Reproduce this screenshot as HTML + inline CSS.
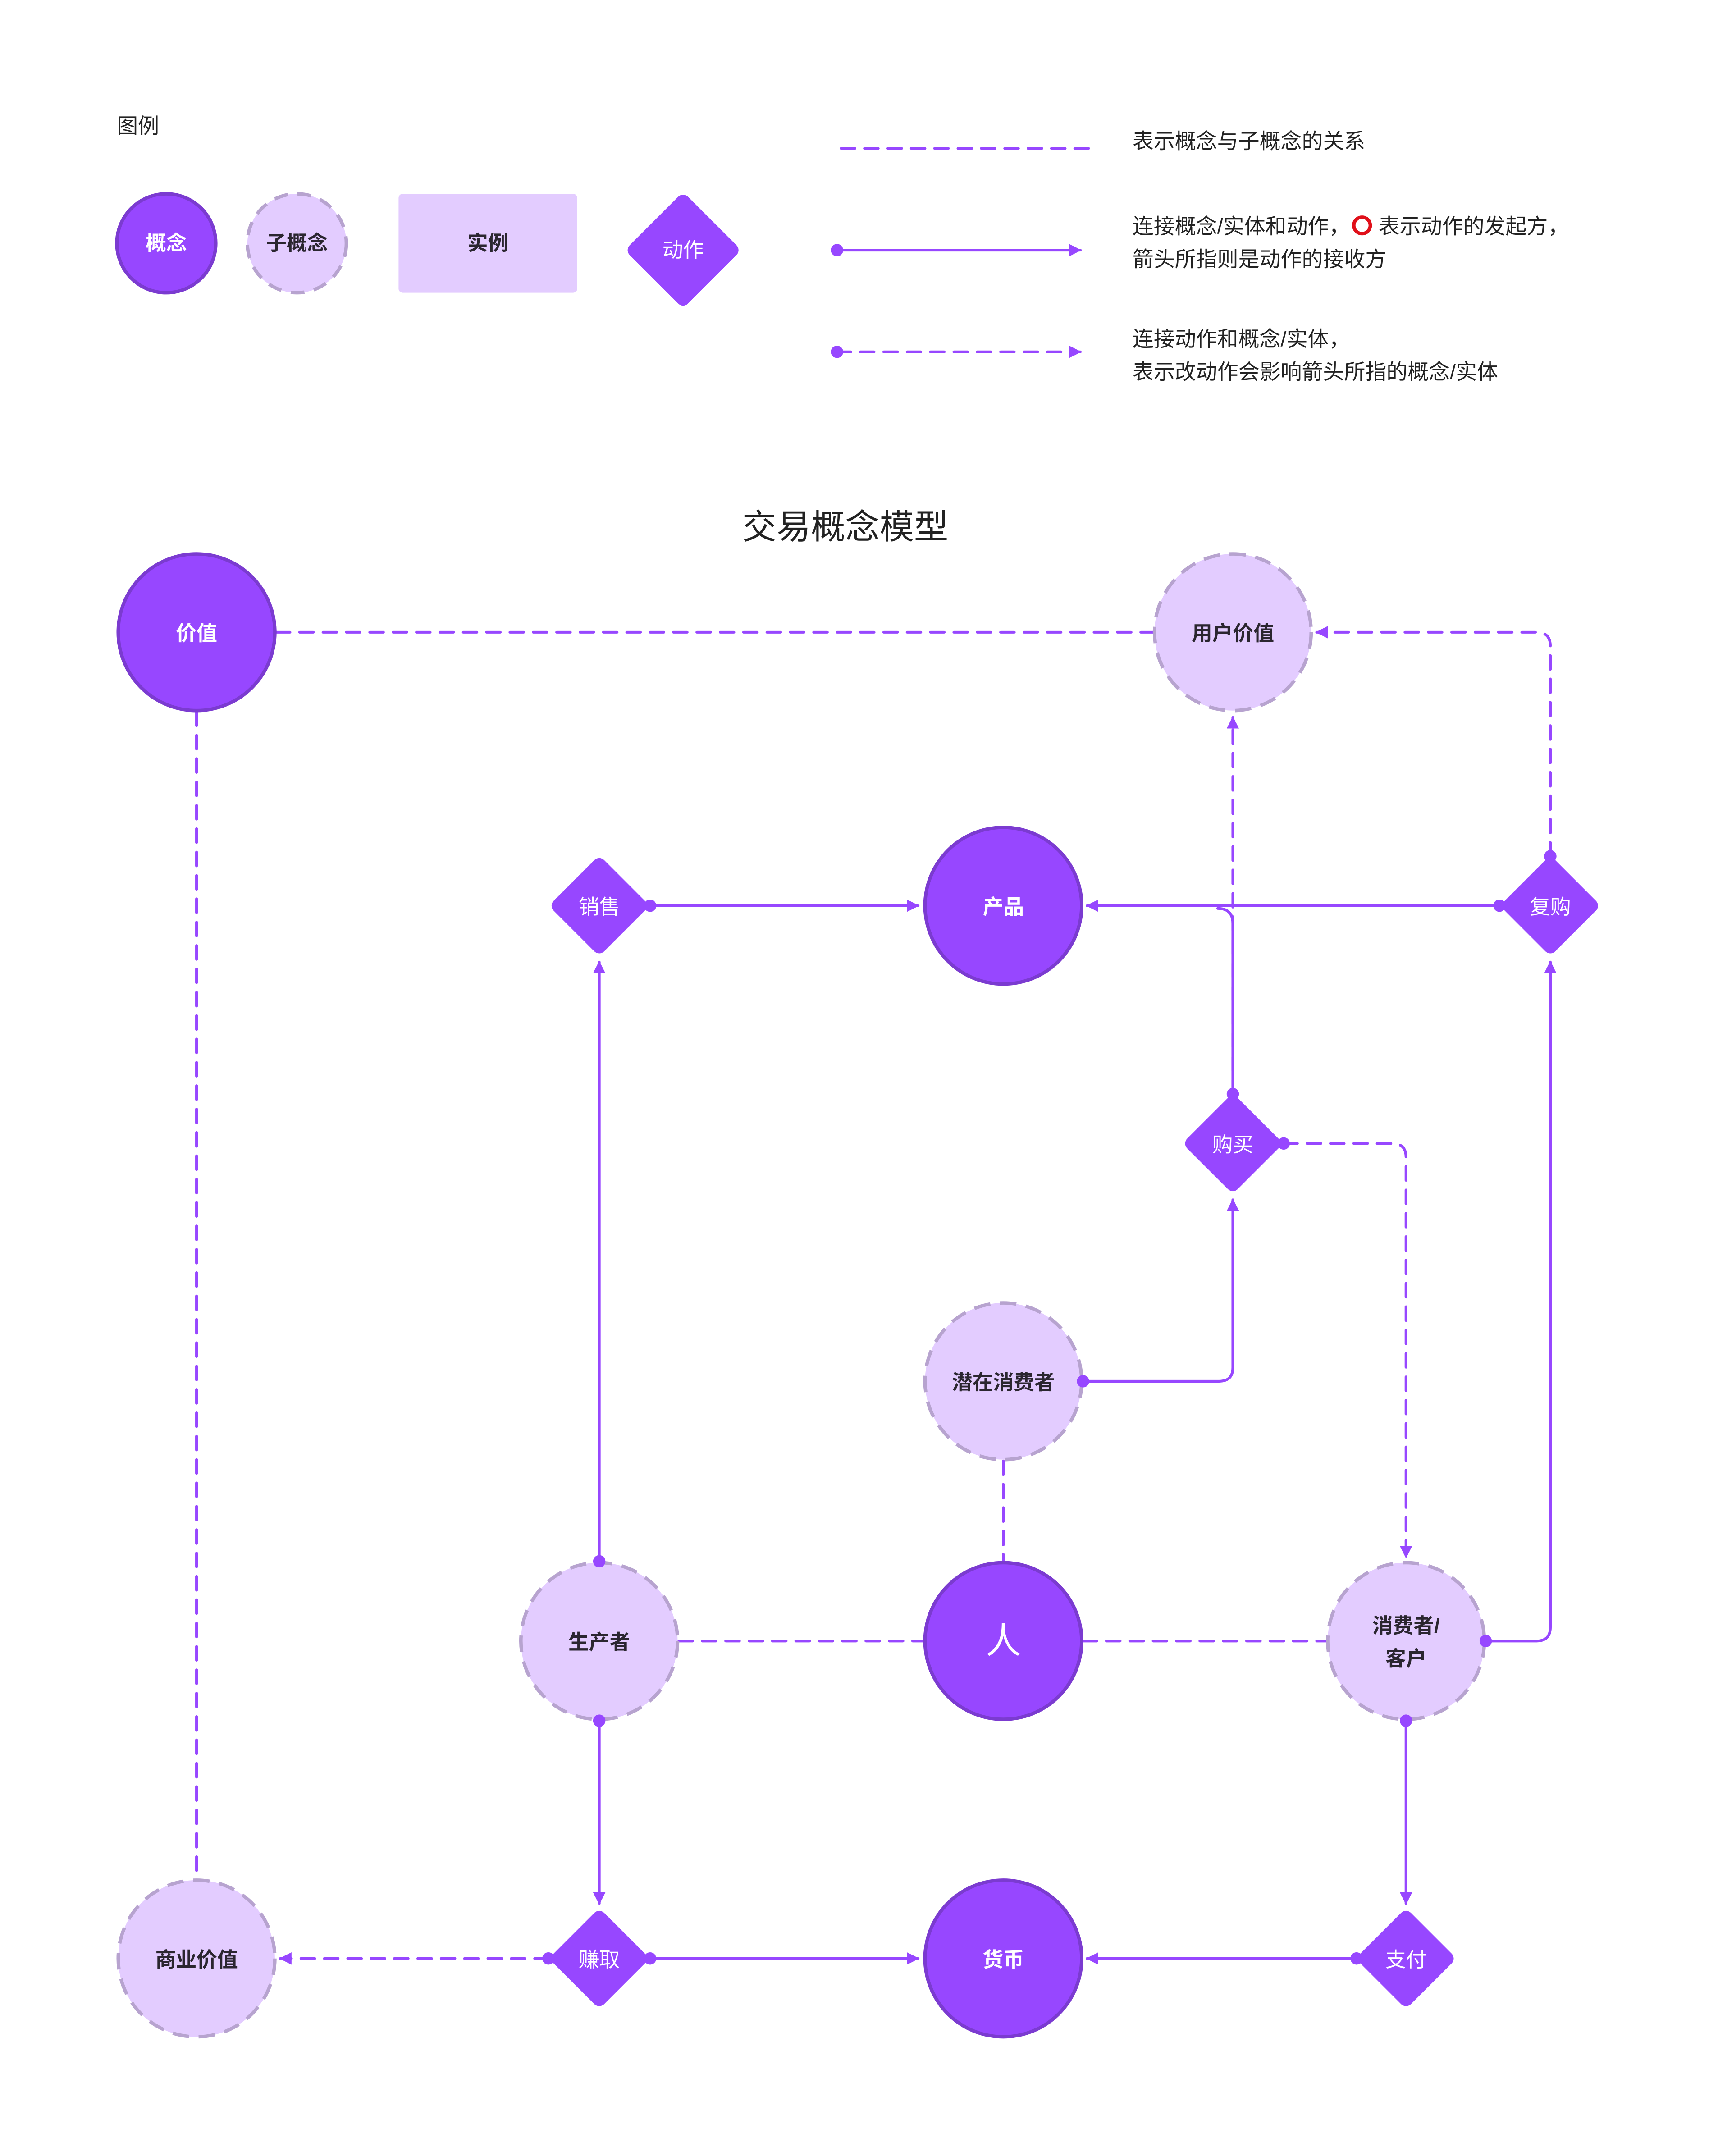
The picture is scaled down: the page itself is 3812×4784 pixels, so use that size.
<!DOCTYPE html>
<html><head><meta charset="utf-8"><style>
html,body{margin:0;padding:0;background:#fff;}
svg{display:block;}
text{font-family:"Liberation Sans","Noto Sans CJK SC",sans-serif;}
</style></head><body>
<svg width="3812" height="4784" viewBox="0 0 1250 1568.7" xmlns="http://www.w3.org/2000/svg">
<defs>
<marker id="ar" viewBox="0 0 10 10" refX="9" refY="5" markerWidth="4.5" markerHeight="4.5" orient="auto" markerUnits="strokeWidth">
<path d="M0,0 L10,5 L0,10 z" fill="#9747FF"/></marker>
</defs>
<rect width="1250" height="1568.7" fill="#fff"/>
<g font-size="15.4" fill="#222">
<text x="85" y="97">图例</text>
</g>
<circle cx="121" cy="177" r="36" fill="#9747FF" stroke="#7B3BD0" stroke-width="2.5"/>
<text x="121" y="182" text-anchor="middle" font-size="15" font-weight="bold" fill="#fff">概念</text>
<circle cx="216" cy="177" r="36" fill="#E3CCFF" stroke="#B7A3CF" stroke-width="2.5" stroke-dasharray="10 7"/>
<text x="216" y="182" text-anchor="middle" font-size="15" font-weight="bold" fill="#2B2630">子概念</text>
<rect x="290" y="141" width="130" height="72" rx="3" fill="#E3CCFF"/>
<text x="355" y="182" text-anchor="middle" font-size="15" font-weight="bold" fill="#2B2630">实例</text>
<rect x="467" y="152" width="60" height="60" rx="5" fill="#9747FF" transform="rotate(45 497 182)"/>
<text x="497" y="187" text-anchor="middle" font-size="15" fill="#fff">动作</text>
<g stroke="#9747FF" stroke-width="2" fill="none" stroke-linecap="round">
<line x1="612" y1="108" x2="792" y2="108" stroke-dasharray="10 7"/>
<line x1="609" y1="182" x2="786" y2="182" marker-end="url(#ar)"/>
<line x1="609" y1="256" x2="786" y2="256" stroke-dasharray="10 7" marker-end="url(#ar)"/>
</g>
<circle cx="609" cy="182" r="4.5" fill="#9747FF"/>
<circle cx="609" cy="256" r="4.5" fill="#9747FF"/>
<g font-size="15.4" fill="#222">
<text x="824" y="108">表示概念与子概念的关系</text>
<text x="824" y="170">连接概念/实体和动作，</text>
<text x="1003" y="170">表示动作的发起方，</text>
<text x="824" y="194">箭头所指则是动作的接收方</text>
<text x="824" y="252">连接动作和概念/实体，</text>
<text x="824" y="276">表示改动作会影响箭头所指的概念/实体</text>
</g>
<circle cx="991" cy="164" r="6" fill="none" stroke="#E0101A" stroke-width="2.5"/>
<text x="615" y="392" text-anchor="middle" font-size="25" fill="#222">交易概念模型</text>

<g stroke="#9747FF" stroke-width="2" fill="none" stroke-linecap="round">
<g stroke-dasharray="10 7">
<line x1="201" y1="460" x2="839" y2="460"/>
<line x1="143" y1="518" x2="143" y2="1367"/>
<path d="M1128,623 V470 Q1128,460 1118,460 H958" marker-end="url(#ar)"/>
<line x1="897" y1="796" x2="897" y2="522" marker-end="url(#ar)"/>
<path d="M934,832 H1013 Q1023,832 1023,842 V1133" marker-end="url(#ar)"/>
<line x1="730" y1="1063" x2="730" y2="1136"/>
<line x1="494" y1="1194" x2="672" y2="1194"/>
<line x1="788" y1="1194" x2="965" y2="1194"/>
<line x1="399" y1="1425" x2="204" y2="1425" marker-end="url(#ar)"/>
</g>
<line x1="473" y1="659" x2="668" y2="659" marker-end="url(#ar)"/>
<line x1="1091" y1="659" x2="791" y2="659" marker-end="url(#ar)"/>
<path d="M897,796 V672 Q897,661 886,661"/>
<path d="M788,1005 H887 Q897,1005 897,995 V873" marker-end="url(#ar)"/>
<line x1="436" y1="1136" x2="436" y2="700" marker-end="url(#ar)"/>
<line x1="436" y1="1252" x2="436" y2="1385" marker-end="url(#ar)"/>
<path d="M1081,1194 H1118 Q1128,1194 1128,1184 V700" marker-end="url(#ar)"/>
<line x1="1023" y1="1252" x2="1023" y2="1385" marker-end="url(#ar)"/>
<line x1="473" y1="1425" x2="668" y2="1425" marker-end="url(#ar)"/>
<line x1="987" y1="1425" x2="791" y2="1425" marker-end="url(#ar)"/>
</g>

<g stroke-width="2.5">
<circle cx="143" cy="460" r="57" fill="#9747FF" stroke="#7B3BD0"/>
<circle cx="897" cy="460" r="57" fill="#E3CCFF" stroke="#B7A3CF" stroke-dasharray="12 7"/>
<circle cx="730" cy="659" r="57" fill="#9747FF" stroke="#7B3BD0"/>
<circle cx="730" cy="1005" r="57" fill="#E3CCFF" stroke="#B7A3CF" stroke-dasharray="12 7"/>
<circle cx="436" cy="1194" r="57" fill="#E3CCFF" stroke="#B7A3CF" stroke-dasharray="12 7"/>
<circle cx="730" cy="1194" r="57" fill="#9747FF" stroke="#7B3BD0"/>
<circle cx="1023" cy="1194" r="57" fill="#E3CCFF" stroke="#B7A3CF" stroke-dasharray="12 7"/>
<circle cx="143" cy="1425" r="57" fill="#E3CCFF" stroke="#B7A3CF" stroke-dasharray="12 7"/>
<circle cx="730" cy="1425" r="57" fill="#9747FF" stroke="#7B3BD0"/>
</g>
<g fill="#9747FF">
<rect x="410" y="633" width="52" height="52" rx="5" transform="rotate(45 436 659)"/>
<rect x="1102" y="633" width="52" height="52" rx="5" transform="rotate(45 1128 659)"/>
<rect x="871" y="806" width="52" height="52" rx="5" transform="rotate(45 897 832)"/>
<rect x="410" y="1399" width="52" height="52" rx="5" transform="rotate(45 436 1425)"/>
<rect x="997" y="1399" width="52" height="52" rx="5" transform="rotate(45 1023 1425)"/>
</g>
<g fill="#9747FF">
<circle cx="473" cy="659" r="4.5"/><circle cx="1091" cy="659" r="4.5"/><circle cx="1128" cy="623" r="4.5"/>
<circle cx="897" cy="796" r="4.5"/><circle cx="934" cy="832" r="4.5"/><circle cx="788" cy="1005" r="4.5"/>
<circle cx="436" cy="1136" r="4.5"/><circle cx="436" cy="1252" r="4.5"/><circle cx="1081" cy="1194" r="4.5"/>
<circle cx="1023" cy="1252" r="4.5"/><circle cx="399" cy="1425" r="4.5"/><circle cx="473" cy="1425" r="4.5"/>
<circle cx="987" cy="1425" r="4.5"/>
</g>
<g font-size="15" text-anchor="middle">
<text x="143" y="466" font-weight="bold" fill="#fff">价值</text>
<text x="897" y="466" font-weight="bold" fill="#2B2630">用户价值</text>
<text x="730" y="665" font-weight="bold" fill="#fff">产品</text>
<text x="730" y="1011" font-weight="bold" fill="#2B2630">潜在消费者</text>
<text x="436" y="1200" font-weight="bold" fill="#2B2630">生产者</text>
<text x="730" y="1203" font-size="26" fill="#fff">人</text>
<text x="1023" y="1188" font-weight="bold" fill="#2B2630">消费者/</text>
<text x="1023" y="1212" font-weight="bold" fill="#2B2630">客户</text>
<text x="143" y="1431" font-weight="bold" fill="#2B2630">商业价值</text>
<text x="730" y="1431" font-weight="bold" fill="#fff">货币</text>
<text x="436" y="665" fill="#fff">销售</text>
<text x="1128" y="665" fill="#fff">复购</text>
<text x="897" y="838" fill="#fff">购买</text>
<text x="436" y="1431" fill="#fff">赚取</text>
<text x="1023" y="1431" fill="#fff">支付</text>
</g>
</svg>
</body></html>
